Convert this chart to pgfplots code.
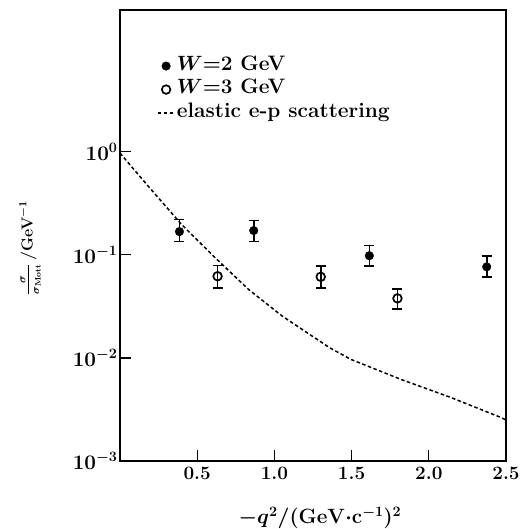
\documentclass[border=0pt]{standalone}
\usepackage{pgfplots}
\pgfplotsset{compat=1.18}
\newcommand{\tickfont}{\fontsize{19}{22}\selectfont\bfseries\boldmath}
\newcommand{\ytickfont}{\fontsize{20}{23}\selectfont\bfseries\boldmath}
\newcommand{\legfont}{\fontsize{21}{24}\selectfont\bfseries\boldmath}
\newcommand{\xlabfont}{\fontsize{21}{24}\selectfont\bfseries\boldmath}
\newcommand{\ylabfont}{\fontsize{16}{19}\selectfont\bfseries\boldmath}
\begin{document}
\begin{tikzpicture}
\begin{axis}[
    scale only axis,
    width=386bp, height=451bp,
    ymode=log,
    xmin=0, xmax=2.5,
    ymin=1e-3, ymax=23.7,
    axis line style={line width=1.3bp},
    xtick={0.5,1.0,1.5,2.0,2.5},
    xticklabels={0.5,1.0,1.5,2.0,2.5},
    ytick={1e-3,1e-2,1e-1,1},
    yticklabels={$10^{-3}$,$10^{-2}$,$10^{-1}$,$10^{0}$},
    yminorticks=false,
    xtick pos=bottom, ytick pos=left,
    tick align=inside,
    major tick length=11bp,
    tick style={line width=1.2bp, black},
    xticklabel style={font=\tickfont, yshift=-3bp},
    yticklabel style={font=\ytickfont, xshift=1bp},
    ylabel={$\frac{\sigma}{\sigma_{\mathrm{Mott}}}$\,/GeV$^{-1}$},
    ylabel style={font=\ylabfont, at={(axis description cs:-0.233,0.472)}, anchor=center},
    legend style={at={(rel axis cs:0.095,0.895)}, anchor=north west,
        draw=none, fill=none, font=\legfont, row sep=6.5bp, inner sep=0pt,
        nodes={inner sep=1.5bp, text height=11bp, text depth=3bp},
        cells={anchor=west}},
    legend cell align=left,
]
% W = 2 GeV (filled)
\addplot+[only marks, black, mark=*, mark size=4.3bp, mark options={fill=black},
    error bars/.cd, y dir=both, y explicit,
    error bar style={line width=1.7bp, black},
    error mark options={rotate=90, mark size=5bp, line width=1.7bp, black}]
coordinates {
    (0.385,0.168) += (0,0.052) -= (0,0.033)
    (0.866,0.172) += (0,0.043) -= (0,0.037)
    (1.615,0.098) += (0,0.025) -= (0,0.020)
    (2.375,0.0765) += (0,0.0205) -= (0,0.0153)
};
% W = 3 GeV (open)
\addplot+[only marks, black, mark=o, mark size=4.3bp, mark options={line width=1.7bp, fill=white},
    error bars/.cd, y dir=both, y explicit,
    error bar style={line width=1.7bp, black},
    error mark options={rotate=90, mark size=5bp, line width=1.7bp, black}]
coordinates {
    (0.632,0.062) += (0,0.017) -= (0,0.014)
    (1.300,0.0612) += (0,0.0164) -= (0,0.0132)
    (1.797,0.0378) += (0,0.0091) -= (0,0.0078)
};
% elastic e-p scattering
\addplot[black, line width=1.5bp, dash pattern=on 3.5bp off 2.5bp]
coordinates {
    (0,0.97) (0.184,0.461) (0.40,0.196) (0.617,0.0935) (0.833,0.0461)
    (1.05,0.0255) (1.244,0.0163) (1.36,0.0125) (1.494,0.0097) (1.818,0.0062)
    (2.143,0.00413) (2.468,0.00264) (2.5,0.0025)
};
\legend{$W{=}2$ GeV, $W{=}3$ GeV, elastic e-p scattering}
\path (rel axis cs:0,0) coordinate (bl) (rel axis cs:1,1) coordinate (tr);
\end{axis}
% x label, centred at 320 px / 518 px
\node[font=\xlabfont, anchor=center] at ([shift={(200bp,-57bp)}]bl)
    {$-q^2/(\mathrm{GeV}{\cdot}\mathrm{c}^{-1})^2$};
\pgfresetboundingbox
\path ([shift={(-120bp,-68bp)}]bl) rectangle ([shift={(22bp,10bp)}]tr);
\end{tikzpicture}
\end{document}
